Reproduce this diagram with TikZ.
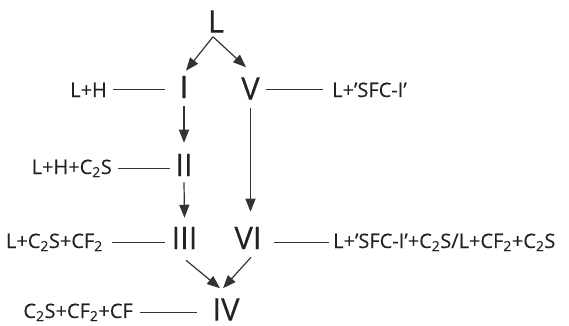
\documentclass[tikz,border=0pt]{standalone}
\usepackage{fontspec}
\setmainfont{Open Sans}
\newfontfamily\labfont{Open Sans}[FakeBold=0.3]
\usetikzlibrary{arrows.meta,calc}
\definecolor{ink}{HTML}{222222}
\definecolor{linec}{HTML}{333333}
\tikzset{
  num/.style={inner sep=0pt, text=ink, font=\labfont\fontsize{31}{31}\selectfont},
  lab/.style={inner sep=0pt, text=ink, font=\labfont\fontsize{20}{20}\selectfont},
  conn/.style={draw=linec, line width=1.2pt},
  arr/.style={draw=linec, line width=1.2pt, -{Triangle[length=13pt,width=10pt]}},
}
\newcommand{\sbs}[1]{\textsubscript{#1}}
\begin{document}
\begin{tikzpicture}[x=1pt,y=-1pt]
\useasboundingbox (0,0) rectangle (569,325);
% numerals
\node[num] (L)   at (216,21.5) {L};
\node[num] (I)   at (184,87) {I};
\node[num] (V)   at (250.5,88.5) {V};
\node[num] (II)  at (184,165) {II};
\node[num] (III) at (184.5,238) {III};
\node[num] (VI)  at (248,238) {VI};
\node[num] (IV)  at (226,309.5) {IV};
% labels
\node[lab, anchor=base east] (lh)   at (107,97) {L+H};
\node[lab, anchor=base east] (lhc)  at (112,174) {L+H+C\sbs{2}S};
\node[lab, anchor=base east] (lcc)  at (103,248) {L+C\sbs{2}S+CF\sbs{2}};
\node[lab, anchor=base east] (ccc)  at (133,318) {C\sbs{2}S+CF\sbs{2}+CF};
\node[lab, anchor=base west] (lsfc) at (332,97) {L+’SFC-I’};
\node[lab, anchor=base west] (long) at (333,248) {L+’SFC-I’+C\sbs{2}S/L+CF\sbs{2}+C\sbs{2}S};
% arrows
\draw[arr] ($(L.south)+(-3,4)$) -- ($(I.north)+(2,-5)$);
\draw[arr] ($(L.south)+(-3,4)$) -- ($(V.north)+(-4.5,-10)$);
\draw[arr] ($(I.south)+(0,8)$) -- ($(II.north)+(0,-11)$);
\draw[arr] ($(II.south)+(0,6)$) -- ($(III.north)+(0,-9)$);
\draw[arr] ($(V.south)+(0,8.5)$) -- ($(V.south |- VI.north)+(0,-15)$);
\draw[arr] ($(III.south)+(1.5,11)$) -- ($(IV.north)+(-6,-10)$);
\draw[arr] ($(VI.south)+(3,8)$) -- ($(IV.north)+(-3,-10)$);
% connector lines
\draw[conn] ($(lh.east)+(6,0)$) -- ($(lh.east -| I.west)+(-14,0)$);
\draw[conn] ($(lhc.east)+(6,0)$) -- ($(lhc.east -| II.west)+(-5,0)$);
\draw[conn] ($(lcc.east)+(9,0)$) -- ($(lcc.east -| III.west)+(-6,0)$);
\draw[conn] ($(ccc.east)+(7,0)$) -- ($(ccc.east -| IV.west)+(-15,0)$);
\draw[conn] ($(V.east |- lsfc.west)+(6,0)$) -- ($(lsfc.west)+(-9,0)$);
\draw[conn] ($(VI.east |- long.west)+(12,0)$) -- ($(long.west)+(-4,0)$);
\end{tikzpicture}
\end{document}
